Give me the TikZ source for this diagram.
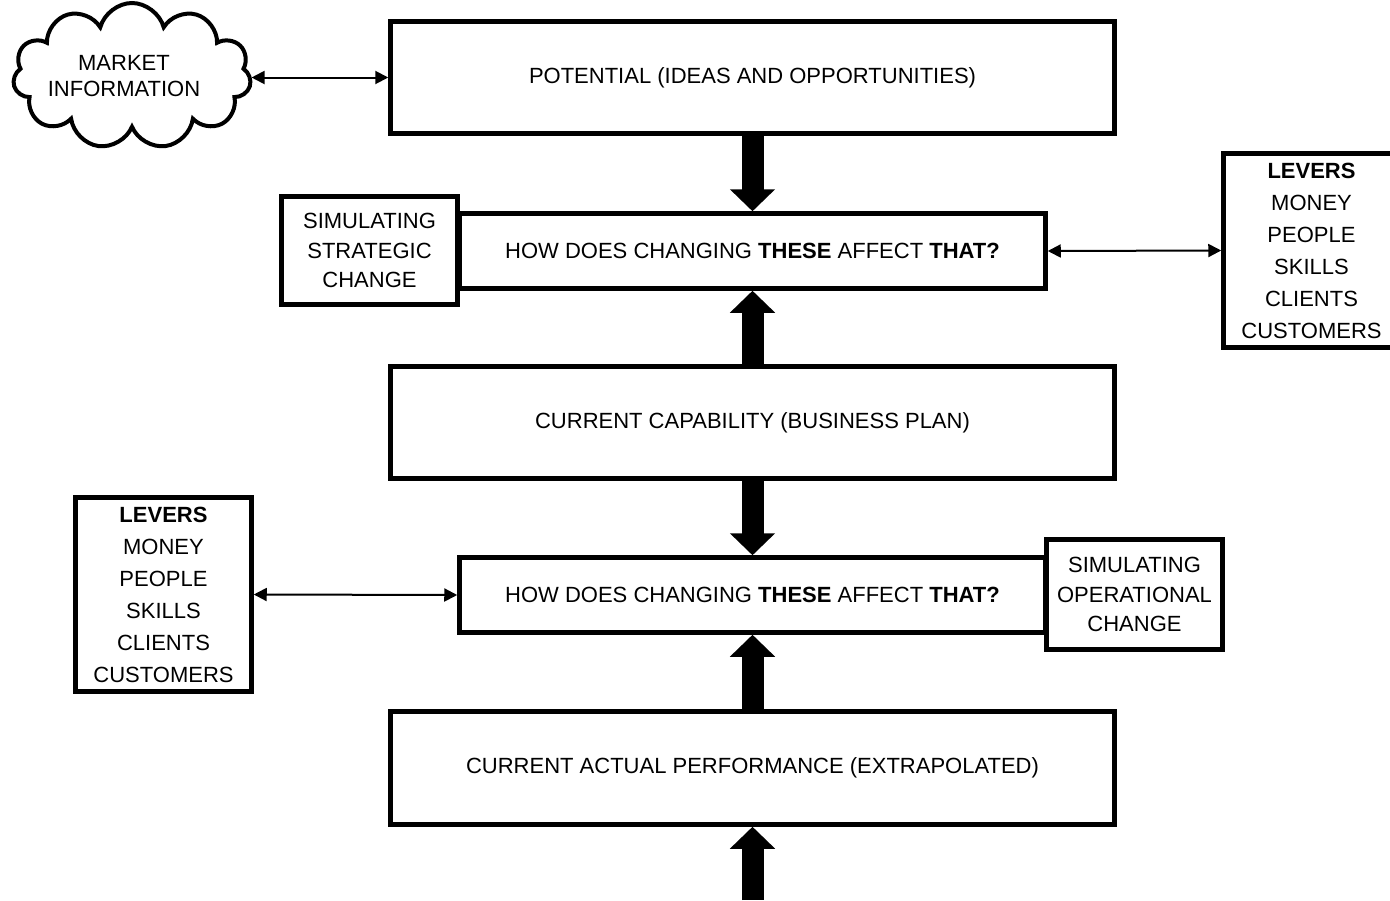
\documentclass[tikz,border=0pt]{standalone}
\usepackage{fontspec}
\setmainfont{Liberation Sans}
\usetikzlibrary{arrows.meta,shapes.symbols}
\tikzset{
  box/.style={draw, fill=white, line width=4.5pt, inner sep=0pt, align=center,
    font=\fontsize{22pt}{32pt}\selectfont},
  simbox/.style={box, font=\fontsize{22pt}{29.5pt}\selectfont},
  bigarrow/.style={line width=22pt, -{Triangle[width=44pt,length=22pt]}},
  thinarrow/.style={line width=2pt, {Triangle[width=13pt,length=13pt]}-{Triangle[width=13pt,length=13pt]}},
}
\begin{document}
\begin{tikzpicture}[x=1pt,y=-1pt]
\useasboundingbox (0,0) rectangle (1390,900);
% main boxes
\node[box, minimum width=724pt, minimum height=112pt] (pot) at (752.5,77.5) {POTENTIAL (IDEAS AND OPPORTUNITIES)};
\node[box, minimum width=586pt, minimum height=75pt] (how1) at (752.5,251) {HOW DOES CHANGING \textbf{THESE} AFFECT \textbf{THAT?}};
\node[simbox, minimum width=176pt, minimum height=108pt] (sim1) at (369.5,250.5) {SIMULATING\\STRATEGIC\\CHANGE};
\node[box, minimum width=176pt, minimum height=194pt] (levR) at (1311.5,250.5) {\textbf{LEVERS}\\MONEY\\PEOPLE\\SKILLS\\CLIENTS\\CUSTOMERS};
\node[box, minimum width=724pt, minimum height=112pt] (cap) at (752.5,422.5) {CURRENT CAPABILITY (BUSINESS PLAN)};
\node[box, minimum width=586pt, minimum height=75pt] (how2) at (752.5,595) {HOW DOES CHANGING \textbf{THESE} AFFECT \textbf{THAT?}};
\node[simbox, minimum width=176pt, minimum height=110pt] (sim2) at (1134.5,594.5) {SIMULATING\\OPERATIONAL\\CHANGE};
\node[box, minimum width=176pt, minimum height=194pt] (levL) at (163.5,594.5) {\textbf{LEVERS}\\MONEY\\PEOPLE\\SKILLS\\CLIENTS\\CUSTOMERS};
\node[box, minimum width=724pt, minimum height=113pt] (act) at (752.5,768) {CURRENT ACTUAL PERFORMANCE (EXTRAPOLATED)};
% cloud
\node[cloud, draw, fill=white, line width=4pt, cloud puffs=11, inner sep=0pt,
      minimum width=238pt, minimum height=146pt] (cloud) at (132,76) {};
\node[align=center, font=\fontsize{22pt}{26pt}\selectfont] (cloudtxt) at (124,76) {MARKET\\INFORMATION};
\coordinate (bottom) at (752.5,900);
% block arrows
\draw[bigarrow] (pot.south) -- (how1.north);
\draw[bigarrow] (cap.north) -- (how1.south);
\draw[bigarrow] (cap.south) -- (how2.north);
\draw[bigarrow] (act.north) -- (how2.south);
\draw[bigarrow] (bottom) -- (act.south);
% thin arrows
\draw[thinarrow] (cloud.east |- pot.west) -- (pot.west);
\draw[thinarrow] (how1.east) -- (levR.west);
\draw[thinarrow] (levL.east) -- (how2.west);
\end{tikzpicture}
\end{document}
